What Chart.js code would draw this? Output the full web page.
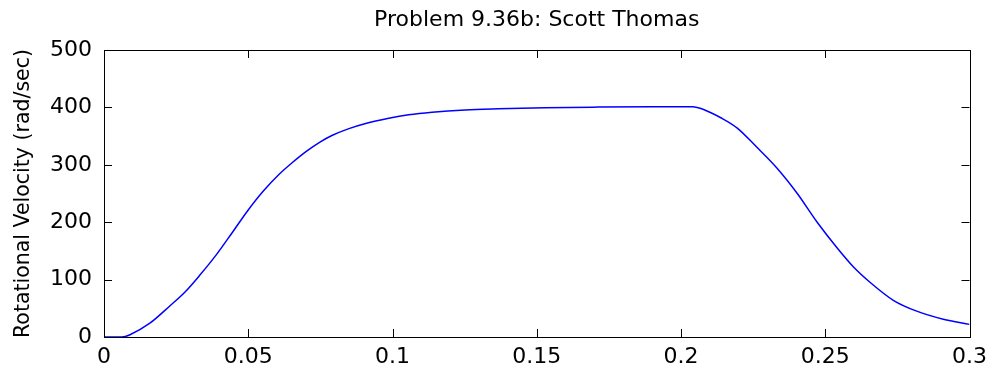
<!DOCTYPE html>
<html>
<head>
<meta charset="utf-8">
<script src="https://cdn.jsdelivr.net/npm/chart.js@4"></script>
<style>
  html, body { margin: 0; padding: 0; background: #fff; }
  #wrap { width: 994px; height: 379px; }
</style>
</head>
<body>
<div id="wrap"><canvas id="myChart" width="994" height="379"></canvas></div>
<script>
// time (s) and rotational velocity (rad/sec)
const time_s = [0, 0.0062, 0.009, 0.0159, 0.0228, 0.028, 0.0331, 0.0389, 0.0446, 0.0498,
  0.055, 0.0608, 0.0653, 0.07, 0.075, 0.079, 0.0849, 0.0907, 0.0987, 0.1056,
  0.1137, 0.1252, 0.1367, 0.1528, 0.171, 0.19, 0.204, 0.208, 0.2138, 0.2195,
  0.2264, 0.2333, 0.2403, 0.2472, 0.254, 0.2598, 0.2656, 0.2736, 0.2817, 0.2909, 0.3];
const omega = [0, 0, 4, 24, 54, 78, 107, 143, 183, 220,
  253, 284, 304, 323, 340, 351, 363, 372, 381, 387,
  391.5, 395.5, 397.5, 399.5, 400.5, 401, 401, 396, 382, 364,
  330, 294, 250, 200, 156, 122, 95, 64, 45, 31, 22];

const x_ticks = [0, 0.05, 0.1, 0.15, 0.2, 0.25, 0.3];
const y_ticks = [0, 100, 200, 300, 400, 500];

let points = [];
for (let i = 0; i < time_s.length; i++) {
  points.push({ x: time_s[i], y: omega[i] });
}

const font_family = "'DejaVu Sans', sans-serif";

// matlab style box with ticks pointing inward on all four sides
const boxTicks = {
  id: "boxTicks",
  afterDraw(chart) {
    const ctx = chart.ctx;
    const a = chart.chartArea;
    const len = 8;
    ctx.save();
    ctx.strokeStyle = "#000";
    ctx.lineWidth = 1;
    ctx.beginPath();
    chart.scales.x.ticks.forEach((t) => {
      const px = Math.round(chart.scales.x.getPixelForValue(t.value)) + 0.5;
      ctx.moveTo(px, a.bottom);
      ctx.lineTo(px, a.bottom - len);
      ctx.moveTo(px, a.top);
      ctx.lineTo(px, a.top + len);
    });
    chart.scales.y.ticks.forEach((t) => {
      const py = Math.round(chart.scales.y.getPixelForValue(t.value)) + 0.5;
      ctx.moveTo(a.left, py);
      ctx.lineTo(a.left + len, py);
      ctx.moveTo(a.right, py);
      ctx.lineTo(a.right - len, py);
    });
    ctx.stroke();
    ctx.strokeRect(Math.round(a.left) + 0.5, Math.round(a.top) + 0.5,
      Math.round(a.right - a.left), Math.round(a.bottom - a.top));
    ctx.restore();
  },
};

const ctx = document.getElementById("myChart").getContext("2d");

var myChart = new Chart(ctx, {
  type: "scatter",
  data: {
    datasets: [{
      data: points,
      showLine: true,
      borderColor: "#0000ff",
      borderWidth: 1.5,
      pointRadius: 0,
      cubicInterpolationMode: "monotone",
      fill: false,
    }],
  },
  options: {
    responsive: false,
    animation: false,
    layout: { padding: { left: 0, right: 21, top: 0, bottom: 0 } },
    plugins: {
      legend: { display: false },
      tooltip: { enabled: false },
      title: {
        display: true,
        fullSize: false,
        text: "Problem 9.36b: Scott Thomas",
        color: "#000",
        font: { family: font_family, size: 22, weight: "normal" },
        padding: { top: 7, bottom: 16.6 },
      },
    },
    scales: {
      x: {
        type: "linear",
        min: 0,
        max: 0.3,
        afterBuildTicks: (s) => { s.ticks = x_ticks.map((v) => ({ value: v })); },
        afterFit: (s) => { s.height = 42; },
        grid: { display: false, drawTicks: false },
        border: { display: false },
        ticks: {
          color: "#000",
          padding: 7,
          maxRotation: 0,
          font: { family: font_family, size: 22 },
          callback: (v) => String(v),
        },
      },
      y: {
        min: 0,
        max: 500,
        afterBuildTicks: (s) => { s.ticks = y_ticks.map((v) => ({ value: v })); },
        afterFit: (s) => { s.width = 104; },
        grid: { display: false, drawTicks: false },
        border: { display: false },
        title: {
          display: true,
          text: "Rotational Velocity (rad/sec)",
          color: "#000",
          font: { family: font_family, size: 20.5, weight: "normal" },
          padding: { top: 11, bottom: 0 },
        },
        ticks: {
          color: "#000",
          padding: 12,
          font: { family: font_family, size: 22 },
          callback: (v) => String(v),
        },
      },
    },
  },
  plugins: [boxTicks],
});
</script>
</body>
</html>
